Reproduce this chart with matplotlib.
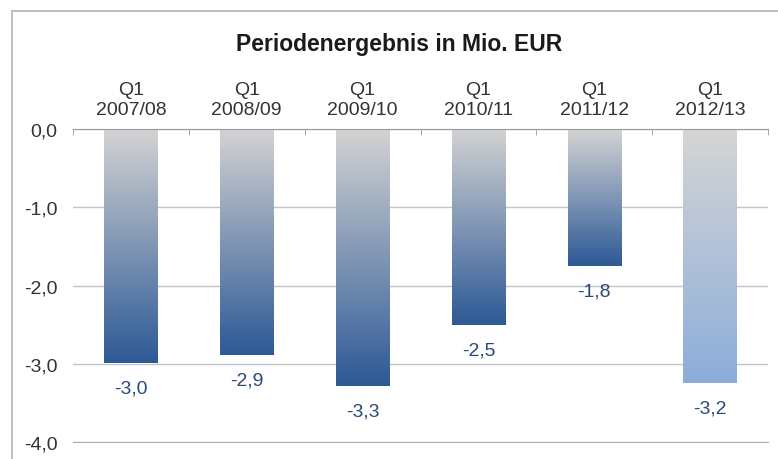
import matplotlib.pyplot as plt
import numpy as np
from matplotlib.colors import LinearSegmentedColormap
from matplotlib.patches import Rectangle

plt.rcParams["font.family"] = ["Liberation Sans", "DejaVu Sans"]

# Daten
quartale = ["Q1\n2007/08", "Q1\n2008/09", "Q1\n2009/10", "Q1\n2010/11", "Q1\n2011/12", "Q1\n2012/13"]
ergebnis = [-2.99, -2.89, -3.28, -2.51, -1.75, -3.24]
beschriftung = ["-3,0", "-2,9", "-3,3", "-2,5", "-1,8", "-3,2"]
y_ticks = [0, -1, -2, -3, -4]

fig = plt.figure(figsize=(7.78, 4.6), dpi=100)
fig.patches.append(Rectangle((11.5 / 778, -0.1), 1.2, 1.1 - 12 / 460, transform=fig.transFigure,
                             fill=False, edgecolor="#b4b4b4", linewidth=1.2))

ax = fig.add_axes([73 / 778, 1 - 443 / 460, 695 / 778, (443 - 130) / 460])

x = np.arange(len(quartale))
breite = 0.46
bars = ax.bar(x, ergebnis, width=breite, color="none", edgecolor="none", zorder=2)

blau = LinearSegmentedColormap.from_list("blau", ["#d3d3d3", "#2d5996"])
hellblau = LinearSegmentedColormap.from_list("hellblau", ["#d5d5d5", "#8caddb"])
verlauf = np.linspace(0, 1, 256).reshape(-1, 1)

for i, (bar, wert) in enumerate(zip(bars, ergebnis)):
    cmap = hellblau if i == len(ergebnis) - 1 else blau
    x0 = bar.get_x()
    ax.imshow(verlauf, cmap=cmap, aspect="auto", extent=(x0, x0 + breite, wert, 0),
              origin="upper", zorder=2)
    ax.annotate(beschriftung[i], (x[i], wert), xytext=(0, -18), textcoords="offset points",
                ha="center", va="center", fontsize=14, color="#2b4a78")

ax.set_xlim(-0.5, len(quartale) - 0.5)
ax.set_ylim(-4, 0)

ax.set_yticks(y_ticks)
ax.set_yticklabels([f"{v:.1f}".replace(".", ",") for v in y_ticks], fontsize=14, color="#333333")
ax.tick_params(axis="y", length=0, pad=11)
ax.yaxis.grid(True, color="#c4c4c4", linewidth=1.0, zorder=0)
ax.set_axisbelow(True)

ax.xaxis.tick_top()
ax.set_xticks(x)
ax.set_xticklabels(quartale, fontsize=14, color="#333333", linespacing=1.2)
ax.set_xticks(np.arange(len(quartale) + 1) - 0.5, minor=True)
ax.tick_params(axis="x", which="major", length=0, pad=8)
ax.tick_params(axis="x", which="minor", length=4, direction="in", color="#9a9a9a")

for s in ["left", "right"]:
    ax.spines[s].set_visible(False)
ax.spines["top"].set_color("#9a9a9a")
ax.spines["bottom"].set_color("#b0b0b0")

fig.text(399 / 778, 1 - 44 / 460, "Periodenergebnis in Mio. EUR", ha="center", va="center",
         fontsize=16.5, fontweight="bold", color="#1a1a1a")

fig.savefig("out.png", dpi=100)
